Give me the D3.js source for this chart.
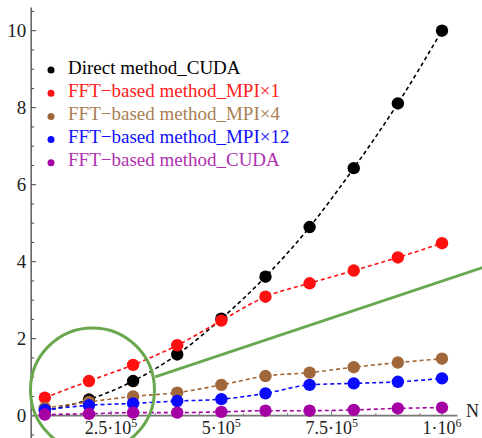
<!DOCTYPE html>
<html>
<head>
<meta charset="utf-8">
<script src="https://cdn.jsdelivr.net/npm/d3@7"></script>
<style>
  body { margin: 0; background: #fff; }
  svg { display: block; font-family: "Liberation Serif", "DejaVu Serif", serif; }
</style>
</head>
<body>
<svg width="482" height="438"></svg>
<script>
// data
const nValues = [1e5, 2e5, 3e5, 4e5, 5e5, 6e5, 7e5, 8e5, 9e5, 1e6]
const directCuda = [0.13, 0.42, 0.9, 1.59, 2.52, 3.61, 4.9, 6.43, 8.11, 10.0]
const fftMpi1 = [0.47, 0.9, 1.32, 1.83, 2.47, 3.09, 3.44, 3.77, 4.11, 4.48]
const fftMpi4 = [0.2, 0.36, 0.5, 0.6, 0.8, 1.03, 1.12, 1.26, 1.38, 1.48]
const fftMpi12 = [0.15, 0.27, 0.32, 0.38, 0.43, 0.58, 0.8, 0.84, 0.88, 0.97]
const fftCuda = [0.03, 0.05, 0.08, 0.08, 0.1, 0.13, 0.13, 0.15, 0.19, 0.21]

const seriesNames = ["Direct method_CUDA", "FFT\u2212based method_MPI\u00d71", "FFT\u2212based method_MPI\u00d74",
    "FFT\u2212based method_MPI\u00d712", "FFT\u2212based method_CUDA"]
const seriesColors = ["#000000", "#ff1010", "#a0683a", "#0a0aff", "#a400a4"]
const legendColors = ["#000000", "#ff2020", "#a97f55", "#1010ff", "#b030b0"]

const yMajor = [0, 2, 4, 6, 8, 10]
const xMajor = [2.5e5, 5e5, 7.5e5, 1e6]
const xLabels = [["2.5\u00b710", "5"], ["5\u00b710", "5"], ["7.5\u00b710", "5"], ["1\u00b710", "6"]]

// highlight circle + line (data coords)
const zoomCircle = { x: 2.08e5, y: 0.67 }
const zoomLine = [[3.5e5, 1.01], [1.095e6, 3.86]]

const svg = d3.select("svg")

const x = d3.scaleLinear().domain([0, 1e6]).range([0.7, 442])
const y = d3.scaleLinear().domain([0, 10]).range([415.7, 30.7])

const xStart = 6.9e4, xEnd = 1.035e6
const yStart = -0.6, yEnd = 10.6

const series = [directCuda, fftMpi1, fftMpi4, fftMpi12, fftCuda].map((vals, i) => ({
    name: seriesNames[i],
    color: seriesColors[i],
    points: vals.map((v, j) => ({ n: nValues[j], t: v }))
}))

// y axis
const yAxisG = svg.append("g").attr("transform", `translate(${x(xStart)},0)`)
yAxisG.append("line")
    .attr("y1", y(yEnd)).attr("y2", y(yStart))
    .attr("stroke", "#444").attr("stroke-width", 1.3)
const yMinor = d3.range(-0.5, 10.51, 0.5).filter(v => v % 2 !== 0)
yAxisG.selectAll(".ymin").data(yMinor).join("line")
    .attr("x1", 0).attr("x2", 3)
    .attr("y1", d => y(d)).attr("y2", d => y(d))
    .attr("stroke", "#444").attr("stroke-width", 1)
yAxisG.selectAll(".ymaj").data(yMajor).join("line")
    .attr("x1", 0).attr("x2", 5)
    .attr("y1", d => y(d)).attr("y2", d => y(d))
    .attr("stroke", "#444").attr("stroke-width", 1)
yAxisG.selectAll(".ylab").data(yMajor).join("text")
    .attr("x", -5).attr("y", d => y(d) + 6)
    .attr("text-anchor", "end")
    .attr("font-size", 19)
    .attr("fill", "#222")
    .text(d => d)

// x axis
const xAxisG = svg.append("g").attr("transform", `translate(0,${y(0)})`)
xAxisG.append("line")
    .attr("x1", x(xStart)).attr("x2", x(xEnd))
    .attr("stroke", "#777").attr("stroke-width", 1.8)
const xMinor = d3.range(1e5, 1.0001e6, 5e4).filter(v => v % 2.5e5 !== 0)
xAxisG.selectAll(".xmin").data(xMinor).join("line")
    .attr("x1", d => x(d)).attr("x2", d => x(d))
    .attr("y1", 0).attr("y2", -2.5)
    .attr("stroke", "#777").attr("stroke-width", 1)
xAxisG.selectAll(".xmaj").data(xMajor).join("line")
    .attr("x1", d => x(d)).attr("x2", d => x(d))
    .attr("y1", 0).attr("y2", -5)
    .attr("stroke", "#777").attr("stroke-width", 1)
const xl = xAxisG.selectAll(".xlab").data(xMajor).join("text")
    .attr("x", d => x(d)).attr("y", 18.5)
    .attr("text-anchor", "middle")
    .attr("font-size", 18)
    .attr("fill", "#222")
xl.append("tspan").text((d, i) => xLabels[i][0])
xl.append("tspan").attr("dy", -7).attr("font-size", 12).text((d, i) => xLabels[i][1])

svg.append("text")
    .attr("x", 466).attr("y", y(0) + 1)
    .attr("font-size", 18)
    .attr("fill", "#222")
    .text("N")

// series lines and points
const line = d3.line().x(d => x(d.n)).y(d => y(d.t)).curve(d3.curveMonotoneX)
const groups = svg.selectAll(".series").data(series).join("g")
groups.append("path")
    .attr("d", d => line(d.points))
    .attr("fill", "none")
    .attr("stroke", d => d.color)
    .attr("stroke-width", 1.6)
    .attr("stroke-dasharray", "4,3")
groups.selectAll("circle").data(d => d.points.map(p => ({ ...p, color: d.color }))).join("circle")
    .attr("cx", d => x(d.n)).attr("cy", d => y(d.t))
    .attr("r", 6.2)
    .attr("fill", d => d.color)

// legend
const legend = svg.append("g")
legend.selectAll("circle").data(seriesNames).join("circle")
    .attr("cx", 51).attr("cy", (d, i) => 70 + i * 23.2)
    .attr("r", 3.5)
    .attr("fill", (d, i) => seriesColors[i])
legend.selectAll("text").data(seriesNames).join("text")
    .attr("x", 68).attr("y", (d, i) => 73.5 + i * 23.2)
    .attr("font-size", 19)
    .attr("fill", (d, i) => legendColors[i])
    .text(d => d)

// highlight annotation
svg.append("circle")
    .attr("cx", x(zoomCircle.x)).attr("cy", y(zoomCircle.y))
    .attr("r", 62)
    .attr("fill", "none")
    .attr("stroke", "#6aa84f")
    .attr("stroke-width", 3)
svg.append("line")
    .attr("x1", x(zoomLine[0][0])).attr("y1", y(zoomLine[0][1]))
    .attr("x2", x(zoomLine[1][0])).attr("y2", y(zoomLine[1][1]))
    .attr("stroke", "#6aa84f")
    .attr("stroke-width", 3)
</script>
</body>
</html>
